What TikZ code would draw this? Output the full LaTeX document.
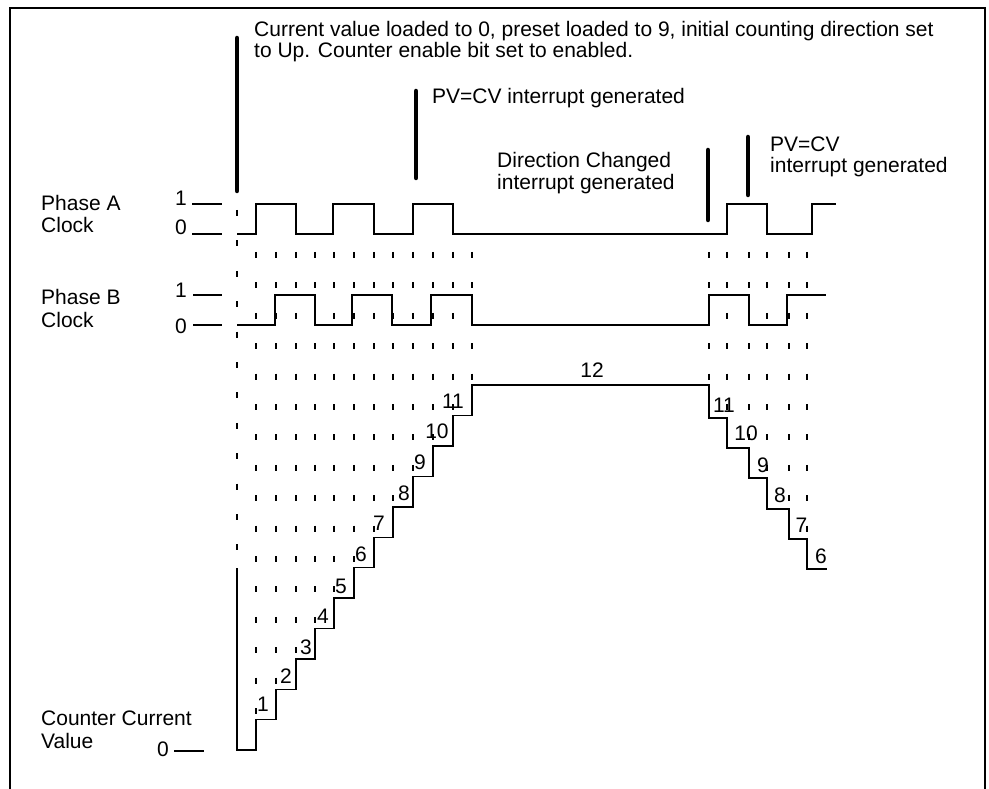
\documentclass[tikz,border=0pt]{standalone}
\usepackage{fontspec}
\setmainfont{Liberation Sans}
\begin{document}
\begin{tikzpicture}[x=1pt,y=-1pt,
  wave/.style={line width=1.4pt, line join=miter},
  irqbar/.style={line width=4.5pt, line cap=round},
  guide/.style={line width=1.4pt, dash pattern=on 6pt off 24.4pt},
  levtick/.style={line width=1.2pt},
  lbl/.style={inner sep=0pt, font=\fontsize{21}{22}\selectfont},
  num/.style={inner sep=0pt, anchor=base, font=\fontsize{21}{22}\selectfont}]
\useasboundingbox (0,0) rectangle (989,789);
% frame
\draw[line width=1.5pt] (10,789) -- (10,8) -- (985,8) -- (985,789);

% interrupt bars
\draw[irqbar] (237,38) -- (237,191);
\draw[irqbar] (416,91) -- (416,178);
\draw[irqbar] (708,150) -- (708,220);
\draw[irqbar] (748,137) -- (748,195);

% annotations
\node[lbl, anchor=base west] (t1a) at (254,37) {Current value loaded to 0, preset loaded to 9, initial counting direction set};
\node[lbl, anchor=base west] (t1b) at (254,58) {to Up. Counter enable bit set to enabled.};
\node[lbl, anchor=base west] (t2) at (432,104) {PV=CV interrupt generated};
\node[lbl, anchor=base west] (t3a) at (497,168) {Direction Changed};
\node[lbl, anchor=base west] (t3b) at (497,190) {interrupt generated};
\node[lbl, anchor=base west] (t4a) at (770,152) {PV=CV};
\node[lbl, anchor=base west] (t4b) at (770,173) {interrupt generated};

% signal names
\node[lbl, anchor=base west] (pa1) at (41,211) {Phase A};
\node[lbl, anchor=base west] (pa2) at (41,233) {Clock};
\node[lbl, anchor=base west] (pb1) at (41,304) {Phase B};
\node[lbl, anchor=base west] (pb2) at (41,327) {Clock};
\node[lbl, anchor=base west] (cv1) at (41,725) {Counter Current};
\node[lbl, anchor=base west] (cv2) at (41,748) {Value};

% level ticks
\node[num] (pa1v) at (181,206) {1};
\node[num] (pa0v) at (181,235) {0};
\node[num] (pb1v) at (181,297) {1};
\node[num] (pb0v) at (181,333) {0};
\node[num] (cv0v) at (163,756) {0};
\draw[levtick] (192,204) -- (222,204);
\draw[levtick] (192,234) -- (222,234);
\draw[levtick] (193,295) -- (222,295);
\draw[levtick] (193,325) -- (222,325);
\draw[levtick] (174,751) -- (204,751);

% dashed guide columns
\draw[guide] (237,210) -- (237,568);
\foreach \x [count=\i] in {256,276,296,315,334,354,374,393,413,433,453,472}
  \draw[guide] (\x,252) -- (\x,{750-30.4*\i});
\foreach \x/\e in {709/385,727/418,749/448,767/478,789/509,807/539}
  \draw[guide] (\x,252) -- (\x,\e);

% Phase A
\draw[wave] (237,234) -- (256,234) -- (256,204) -- (296,204) -- (296,234) -- (333,234) -- (333,204) -- (374,204) -- (374,234) -- (413,234) -- (413,204) -- (453,204) -- (453,234) -- (727,234) -- (727,204) -- (767,204) -- (767,234) -- (812,234) -- (812,204) -- (836,204);
% Phase B
\draw[wave] (237,325) -- (275,325) -- (275,295) -- (315,295) -- (315,325) -- (352,325) -- (352,295) -- (392,295) -- (392,325) -- (431,325) -- (431,295) -- (472,295) -- (472,325) -- (709,325) -- (709,295) -- (749,295) -- (749,325) -- (787,325) -- (787,295) -- (826,295);
% Counter current value
\draw[wave] (237,568) -- (237,750) -- (256,750) -- (256,719.6) -- (276,719.6) -- (276,689.2) -- (296,689.2) -- (296,658.8) -- (315,658.8) -- (315,628.4) -- (334,628.4) -- (334,598) -- (354,598) -- (354,567.6) -- (374,567.6) -- (374,537.2) -- (393,537.2) -- (393,506.8) -- (413,506.8) -- (413,476.4) -- (433,476.4) -- (433,446) -- (453,446) -- (453,415.6) -- (472,415.6) -- (472,385) -- (709,385) -- (709,418) -- (727,418) -- (727,448) -- (749,448) -- (749,478) -- (767,478) -- (767,509) -- (789,509) -- (789,539) -- (807,539) -- (807,569) -- (827,569);

% counter values
\foreach \v/\x/\y in {1/263/711,2/286/683,3/306/654,4/323/623,5/341/593,6/361/561,7/379/530,8/404/500,9/420/469,10/437/438,11/453/408}
  \node[num] (up\v) at (\x,\y) {\v};
\node[num] (top12) at (592,377) {12};
\foreach \v/\x/\y in {11/724/412,10/746/440,9/763/472,8/780/502,7/801.5/532,6/821/563}
  \node[num] (dn\v) at (\x,\y) {\v};
\end{tikzpicture}
\end{document}
